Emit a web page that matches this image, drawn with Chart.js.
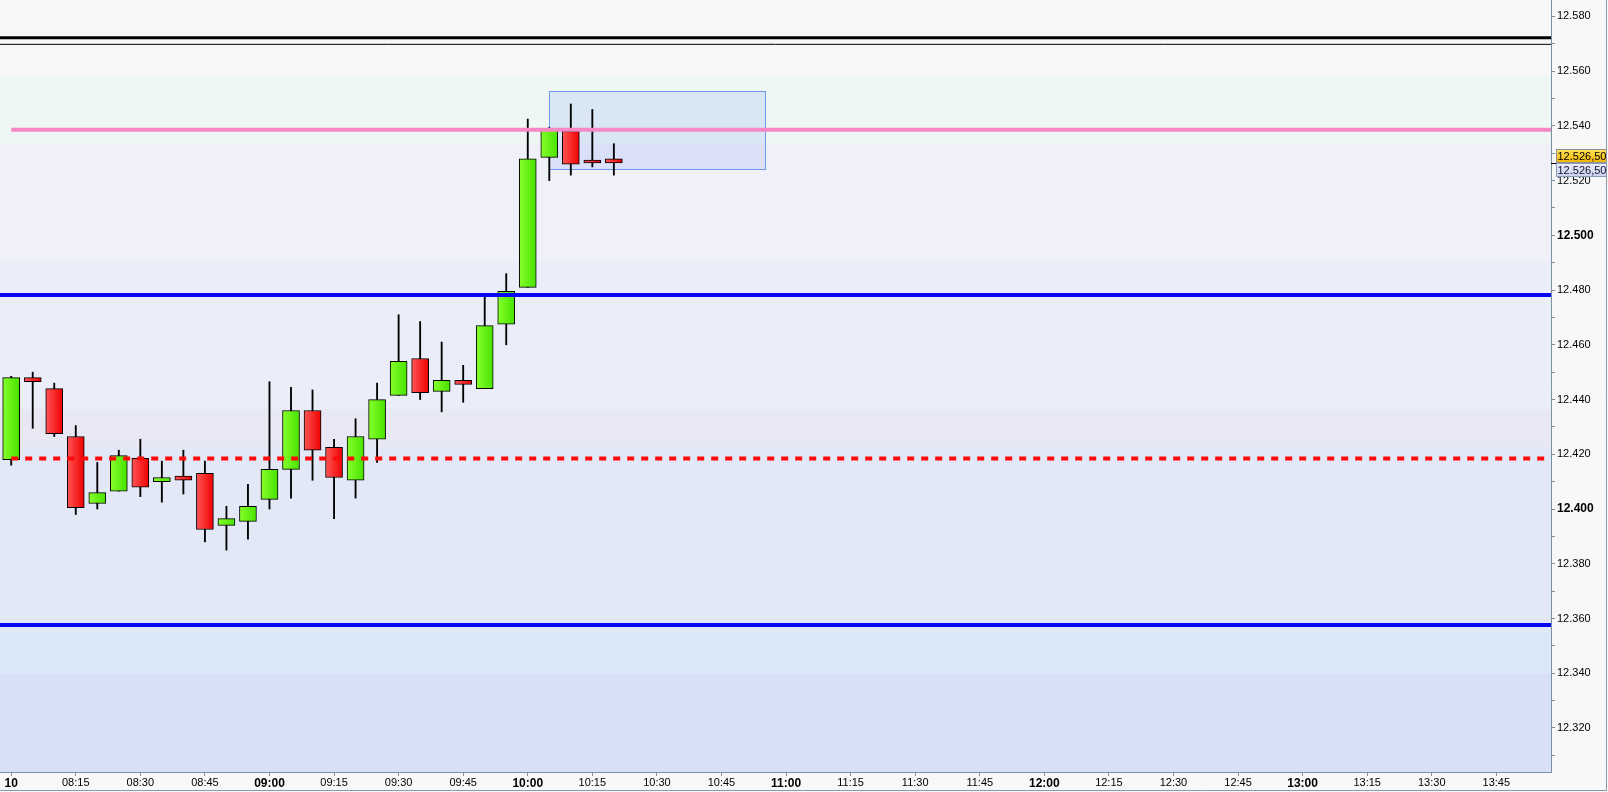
<!DOCTYPE html>
<html>
<head>
<meta charset="utf-8">
<script src="https://cdn.jsdelivr.net/npm/chart.js@4.4.1/dist/chart.umd.min.js"></script>
<style>
  html, body { margin: 0; padding: 0; background: #f8f8f8; overflow: hidden; }
  canvas { display: block; }
</style>
</head>
<body>
<canvas id="chart" width="1608" height="792"></canvas>
<script>
// 5-minute candles
const candleTimes = ['08:00','08:05','08:10','08:15','08:20','08:25','08:30','08:35','08:40','08:45',
                     '08:50','08:55','09:00','09:05','09:10','09:15','09:20','09:25','09:30','09:35',
                     '09:40','09:45','09:50','09:55','10:00','10:05','10:10','10:15','10:20'];
const opens  = [12418, 12448, 12444, 12426.5, 12402, 12406.5, 12418.5, 12410, 12412, 12413,
                12394, 12395.5, 12403.5, 12414.5, 12436, 12422.5, 12410.5, 12425.5, 12441.5, 12455,
                12443, 12447, 12444, 12467.5, 12481, 12528.5, 12538, 12527.5, 12528];
const highs  = [12448.5, 12450, 12446, 12430.5, 12417, 12421.5, 12425.5, 12417.5, 12421.5, 12417.5,
                12401, 12409, 12446.5, 12444.5, 12443.5, 12425.5, 12433, 12446, 12471, 12468.5,
                12461, 12452.5, 12478, 12486, 12542.5, 12539.5, 12548, 12546, 12533.5];
const lows   = [12416, 12429.5, 12426.5, 12398, 12400, 12406.5, 12404.5, 12402.5, 12405.5, 12388,
                12385, 12389, 12400, 12404, 12410.5, 12396.5, 12404, 12417, 12441.5, 12440,
                12435.5, 12439, 12444, 12460, 12481, 12520, 12522, 12525, 12522];
const closes = [12448, 12446.5, 12427.5, 12400.5, 12406, 12419.5, 12408, 12411.5, 12410.5, 12392.5,
                12396.5, 12401, 12414.5, 12436, 12421.5, 12411.5, 12426.5, 12440, 12454, 12442.5,
                12447, 12445.5, 12467, 12479.5, 12528, 12539, 12526, 12526.5, 12526.5];

// horizontal levels (null start = from the left edge)
const levelValues = [12572.2, 12569.8, 12538.6, 12478.2, 12418.5, 12357.6];
const levelStarts = [null, null, '08:00', null, '08:00', null];

// background zones
const bandEdges  = [12586, 12558.4, 12533.6, 12490.8, 12436.7, 12422.8, 12354.8, 12339.8, 12303.9];
const bandColors = ['#f7f7f7', '#eff7f5', '#f0f0f9', '#e9eef8', '#e8e8f5', '#e3e8f6', '#d9e7f8', '#d8e0f8'];

// selection box
const boxTimes  = ['10:05', '10:55'];
const boxValues = [12524.3, 12552.8];

const lastPrice = 12526.5;

// axes
const xTickTimes  = ['08:00','08:15','08:30','08:45','09:00','09:15','09:30','09:45','10:00','10:15','10:30','10:45',
                     '11:00','11:15','11:30','11:45','12:00','12:15','12:30','12:45','13:00','13:15','13:30','13:45'];
const xTickLabels = ['10','08:15','08:30','08:45','09:00','09:15','09:30','09:45','10:00','10:15','10:30','10:45',
                     '11:00','11:15','11:30','11:45','12:00','12:15','12:30','12:45','13:00','13:15','13:30','13:45'];
const yTickValues = [12320, 12340, 12360, 12380, 12400, 12420, 12440, 12460, 12480, 12500, 12520, 12540, 12560, 12580];

const X_MIN = -2.6, X_MAX = 357.7;
const Y_MIN = 12303.9, Y_MAX = 12586;
const FONT = "'Liberation Sans', Arial, sans-serif";

function toMin(t) {
    const p = t.split(':').map(Number);
    return (p[0] - 8) * 60 + p[1];
}

function fmtPrice(v) {
    const s = String(Math.round(v));
    return s.slice(0, s.length - 3) + '.' + s.slice(-3);
}

function bodyFill(c) {
    const i = c.dataIndex;
    const up = closes[i] >= opens[i];
    const flat = up ? '#62f012' : '#fa1e1e';
    const xs = c.chart.scales && c.chart.scales.x;
    if (c.type !== 'data' || !xs) return flat;
    const px = xs.getPixelForValue(toMin(candleTimes[i]));
    if (!isFinite(px)) return flat;
    const g = c.chart.ctx.createLinearGradient(px - 8.5, 0, px + 8.5, 0);
    if (up) { g.addColorStop(0, '#86ff2c'); g.addColorStop(1, '#48e200'); }
    else { g.addColorStop(0, '#ff5656'); g.addColorStop(1, '#ee0000'); }
    return g;
}

const levelStyles = [
    { color: '#000000', width: 3, dash: [] },
    { color: '#000000', width: 1, dash: [] },
    { color: '#f788c6', width: 4, dash: [] },
    { color: '#0808f6', width: 4, dash: [] },
    { color: '#ff0a0a', width: 4, dash: [7, 7] },
    { color: '#0808f6', width: 4, dash: [] }
];

const levelSets = levelValues.map(function(v, k) {
    const start = levelStarts[k] ? toMin(levelStarts[k]) : X_MIN;
    return {
        type: 'line',
        data: [{ x: start, y: v }, { x: X_MAX, y: v }],
        borderColor: levelStyles[k].color,
        borderWidth: levelStyles[k].width,
        borderDash: levelStyles[k].dash,
        borderCapStyle: 'butt',
        pointRadius: 0,
        order: 0
    };
});

// zones behind, selection box, price tags, frame
const decorPlugin = {
    id: 'decor',
    beforeDraw(chart) {
        const { ctx, chartArea: a, scales: { y } } = chart;
        ctx.save();
        for (let i = 0; i < bandColors.length; i++) {
            const t = Math.round(y.getPixelForValue(bandEdges[i]));
            const b = Math.round(y.getPixelForValue(bandEdges[i + 1]));
            ctx.fillStyle = bandColors[i];
            ctx.fillRect(a.left, t, a.right - a.left, b - t);
        }
        ctx.restore();
    },
    beforeDatasetsDraw(chart) {
        const { ctx, scales: { x, y } } = chart;
        const x0 = Math.round(x.getPixelForValue(toMin(boxTimes[0]))) + 0.5;
        const x1 = Math.round(x.getPixelForValue(toMin(boxTimes[1]))) + 0.5;
        const y0 = Math.round(y.getPixelForValue(boxValues[1])) + 0.5;
        const y1 = Math.round(y.getPixelForValue(boxValues[0])) + 0.5;
        ctx.save();
        ctx.fillStyle = 'rgba(110, 150, 245, 0.17)';
        ctx.fillRect(x0, y0, x1 - x0, y1 - y0);
        ctx.strokeStyle = '#6c9bf0';
        ctx.lineWidth = 1;
        ctx.strokeRect(x0, y0, x1 - x0, y1 - y0);
        ctx.restore();
    },
    afterDraw(chart) {
        const { ctx, chartArea: a, scales: { y } } = chart;
        const py = Math.round(y.getPixelForValue(lastPrice));
        const label = fmtPrice(Math.floor(lastPrice)) + ',' + String(Math.round((lastPrice % 1) * 100)).padStart(2, '0');
        const x0 = a.right + 5, w = 51, h = 14;
        ctx.save();
        ctx.strokeStyle = '#000';
        ctx.lineWidth = 1;
        ctx.beginPath();
        ctx.moveTo(a.right, py + 0.5);
        ctx.lineTo(x0, py + 0.5);
        ctx.stroke();

        let g = ctx.createLinearGradient(0, py - h, 0, py);
        g.addColorStop(0, '#ffe65e');
        g.addColorStop(1, '#f0b200');
        ctx.fillStyle = g;
        ctx.fillRect(x0, py - h, w, h);
        ctx.strokeStyle = '#8f8f8f';
        ctx.strokeRect(x0 + 0.5, py - h + 0.5, w - 1, h - 1);

        g = ctx.createLinearGradient(0, py, 0, py + h);
        g.addColorStop(0, '#eef0fb');
        g.addColorStop(1, '#c6d0ee');
        ctx.fillStyle = g;
        ctx.fillRect(x0, py, w, h);
        ctx.strokeStyle = '#8a9ab8';
        ctx.strokeRect(x0 + 0.5, py + 0.5, w - 1, h - 1);

        ctx.font = '11px ' + FONT;
        ctx.textBaseline = 'middle';
        ctx.fillStyle = '#000';
        ctx.fillText(label, x0 + 1.5, py - h / 2 + 0.5);
        ctx.fillStyle = '#101030';
        ctx.fillText(label, x0 + 1.5, py + h / 2 + 0.5);

        // outer frame
        ctx.strokeStyle = '#8a9aaa';
        ctx.beginPath();
        ctx.moveTo(0, 790.5);
        ctx.lineTo(1607, 790.5);
        ctx.moveTo(1606.5, 0);
        ctx.lineTo(1606.5, 791);
        ctx.stroke();
        ctx.restore();
    }
};

const chart = new Chart(document.getElementById('chart'), {
    type: 'bar',
    data: {
        datasets: [
            {
                type: 'bar',
                data: candleTimes.map((t, i) => ({ x: toMin(t), y: [lows[i], highs[i]] })),
                backgroundColor: '#000',
                borderWidth: 0,
                barThickness: 1.2,
                grouped: false,
                order: 2
            },
            {
                type: 'bar',
                data: candleTimes.map((t, i) => ({ x: toMin(t), y: [opens[i], closes[i]] })),
                backgroundColor: bodyFill,
                borderColor: '#000',
                borderWidth: 1,
                borderSkipped: false,
                barThickness: 17,
                grouped: false,
                order: 1
            }
        ].concat(levelSets)
    },
    options: {
        responsive: false,
        animation: false,
        devicePixelRatio: 1,
        layout: { padding: { left: 0, top: 0, right: 0, bottom: 2 } },
        plugins: { legend: { display: false }, tooltip: { enabled: false } },
        scales: {
            x: {
                type: 'linear',
                min: X_MIN,
                max: X_MAX,
                offset: false,
                grid: { offset: false, drawOnChartArea: false, drawTicks: true, tickLength: 4, color: '#7890a0' },
                border: { display: true, color: '#7890a0', width: 1 },
                afterBuildTicks: s => { s.ticks = xTickTimes.map(t => ({ value: toMin(t) })); },
                afterFit: s => { s.height = 18; s.paddingLeft = 0; s.paddingRight = 0; },
                ticks: {
                    autoSkip: false,
                    maxRotation: 0,
                    minRotation: 0,
                    padding: 0,
                    color: '#000',
                    font: c => (c.tick && c.tick.value % 60 === 0)
                        ? { family: FONT, size: 12, weight: 'bold' }
                        : { family: FONT, size: 11 },
                    callback: (v, i) => xTickLabels[i]
                }
            },
            y: {
                type: 'linear',
                position: 'right',
                min: Y_MIN,
                max: Y_MAX,
                grid: { drawOnChartArea: false, drawTicks: true, tickLength: 4, color: '#7890a0' },
                border: { display: true, color: '#7890a0', width: 1 },
                afterBuildTicks: s => {
                    const all = [];
                    yTickValues.forEach(v => { all.push({ value: v - 10 }); all.push({ value: v }); });
                    s.ticks = all;
                },
                afterFit: s => { s.width = 57; s.paddingTop = 0; s.paddingBottom = 0; },
                ticks: {
                    autoSkip: false,
                    padding: 2,
                    color: '#000',
                    font: c => (c.tick && c.tick.value % 100 === 0)
                        ? { family: FONT, size: 12, weight: 'bold' }
                        : { family: FONT, size: 11 },
                    callback: v => (yTickValues.indexOf(v) >= 0 ? fmtPrice(v) : '')
                }
            }
        }
    },
    plugins: [decorPlugin]
});
</script>
</body>
</html>
